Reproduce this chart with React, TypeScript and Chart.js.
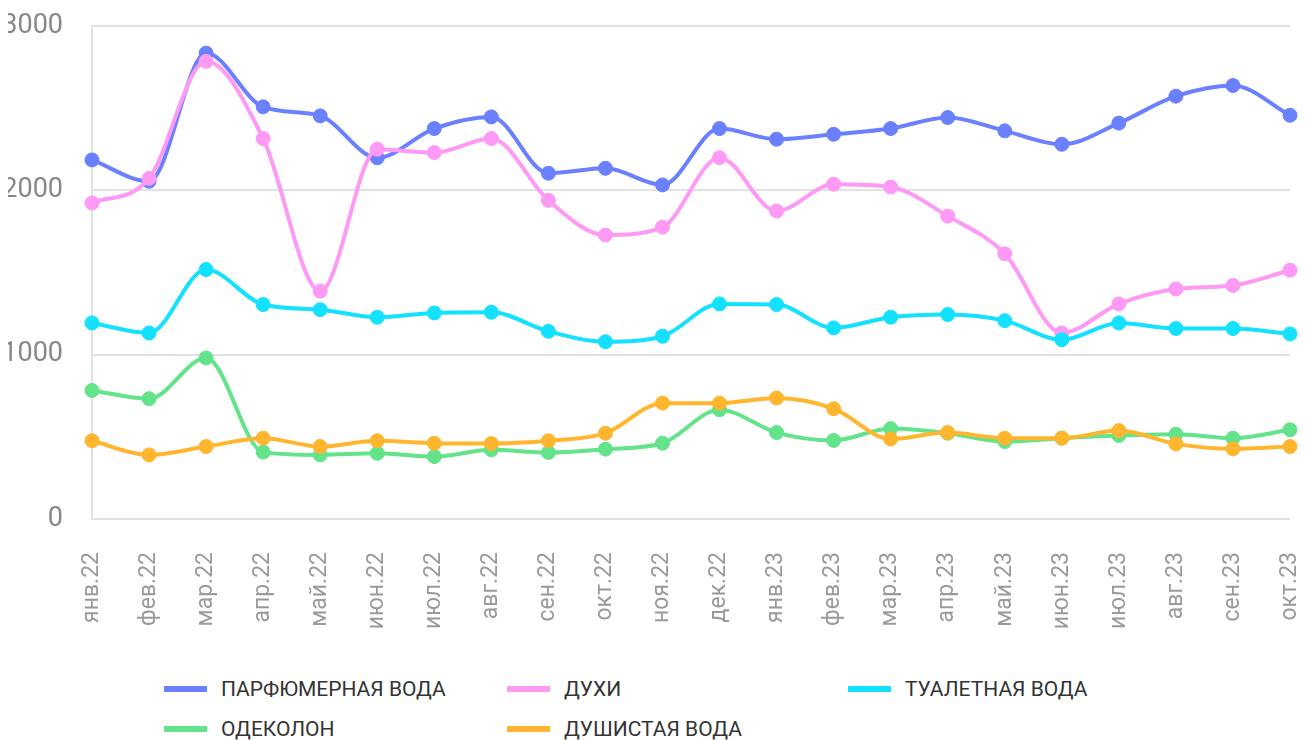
import React, { useEffect, useRef } from "react";
import { Chart, registerables } from "chart.js";

Chart.register(...registerables);

const months = [
  "янв.22", "фев.22", "мар.22", "апр.22", "май.22", "июн.22", "июл.22", "авг.22",
  "сен.22", "окт.22", "ноя.22", "дек.22", "янв.23", "фев.23", "мар.23", "апр.23",
  "май.23", "июн.23", "июл.23", "авг.23", "сен.23", "окт.23",
];

const parfumWater = [2185, 2055, 2835, 2508, 2453, 2198, 2376, 2447, 2104, 2134, 2033, 2376, 2311, 2341, 2376, 2443, 2362, 2280, 2409, 2573, 2638, 2457];
const perfume = [1923, 2073, 2785, 2315, 1386, 2250, 2230, 2315, 1939, 1728, 1776, 2199, 1874, 2037, 2020, 1843, 1614, 1132, 1309, 1400, 1421, 1514];
const toiletWater = [1193, 1132, 1518, 1305, 1274, 1228, 1254, 1258, 1142, 1079, 1112, 1309, 1305, 1163, 1228, 1244, 1207, 1091, 1193, 1159, 1159, 1126];
const cologne = [782, 732, 980, 407, 390, 400, 380, 421, 405, 425, 461, 665, 526, 478, 550, 522, 471, 492, 508, 516, 492, 543];
const scentedWater = [476, 390, 441, 492, 441, 476, 461, 459, 476, 522, 705, 705, 736, 671, 487, 526, 492, 492, 538, 457, 427, 441];

const seriesNames = ["ПАРФЮМЕРНАЯ ВОДА", "ДУХИ", "ТУАЛЕТНАЯ ВОДА", "ОДЕКОЛОН", "ДУШИСТАЯ ВОДА"];
const seriesColors = ["rgb(106,128,255)", "rgb(255,153,246)", "rgb(20,225,255)", "rgb(99,227,138)", "rgb(255,182,46)"];
const seriesData = [parfumWater, perfume, toiletWater, cologne, scentedWater];

const yTicks = [0, 1000, 2000, 3000];

export default function App() {
  const ref = useRef<HTMLCanvasElement>(null);

  useEffect(() => {
    if (!ref.current) return;
    const chart = new Chart(ref.current, {
      type: "line",
      data: {
        labels: months,
        datasets: seriesData.map((d, i) => ({
          label: seriesNames[i],
          data: d,
          borderColor: seriesColors[i],
          backgroundColor: seriesColors[i],
          pointBackgroundColor: seriesColors[i],
          pointBorderColor: seriesColors[i],
          borderWidth: 4,
          pointRadius: 7,
          pointBorderWidth: 1,
          tension: 0.4,
          cubicInterpolationMode: "monotone" as const,
          fill: false,
          order: seriesData.length - i,
        })),
      },
      options: {
        animation: false,
        responsive: true,
        maintainAspectRatio: false,
        layout: { padding: { top: 18, right: 8, left: 0, bottom: 0 } },
        plugins: {
          legend: { display: false },
          tooltip: { enabled: false },
        },
        scales: {
          x: {
            grid: { display: false, drawTicks: false },
            border: { display: false },
            ticks: {
              autoSkip: false,
              minRotation: 90,
              maxRotation: 90,
              padding: 33,
              color: "#9a9a9a",
              font: { family: "Roboto", size: 23 },
            },
            afterFit: (s: any) => {
              s.height = 130;
              s.paddingLeft = 0;
              s.paddingRight = 0;
            },
          },
          y: {
            min: 0,
            max: 3000,
            afterBuildTicks: (s: any) => {
              s.ticks = yTicks.map((v) => ({ value: v }));
            },
            ticks: {
              padding: 29,
              color: "#888888",
              font: { family: "Roboto", size: 27 },
              callback: (v: any) => String(v),
            },
            grid: { color: "#e2e2e2", lineWidth: 2, drawTicks: false },
            border: { color: "#e2e2e2", width: 2 },
            afterFit: (s: any) => {
              s.width = 84;
              s.paddingTop = 0;
              s.paddingBottom = 0;
            },
          },
        },
      },
    });
    return () => chart.destroy();
  }, []);

  return (
    <div style={{ width: "100%" }}>
      <div style={{ position: "relative", width: "100%", height: 641 }}>
        <canvas ref={ref} />
      </div>
      <div
        style={{
          display: "grid",
          gridTemplateColumns: "343px 341px 300px",
          gridAutoRows: "40px",
          marginLeft: 156,
          marginTop: 20,
          fontFamily: "Roboto",
          fontSize: 21,
          color: "#333333",
        }}
      >
        {seriesNames.map((n, i) => (
          <div key={n} style={{ display: "flex", alignItems: "center" }}>
            <span
              style={{
                display: "inline-block",
                width: 43,
                height: 6,
                background: seriesColors[i],
                marginRight: 14,
              }}
            />
            <span>{n}</span>
          </div>
        ))}
      </div>
    </div>
  );
}
